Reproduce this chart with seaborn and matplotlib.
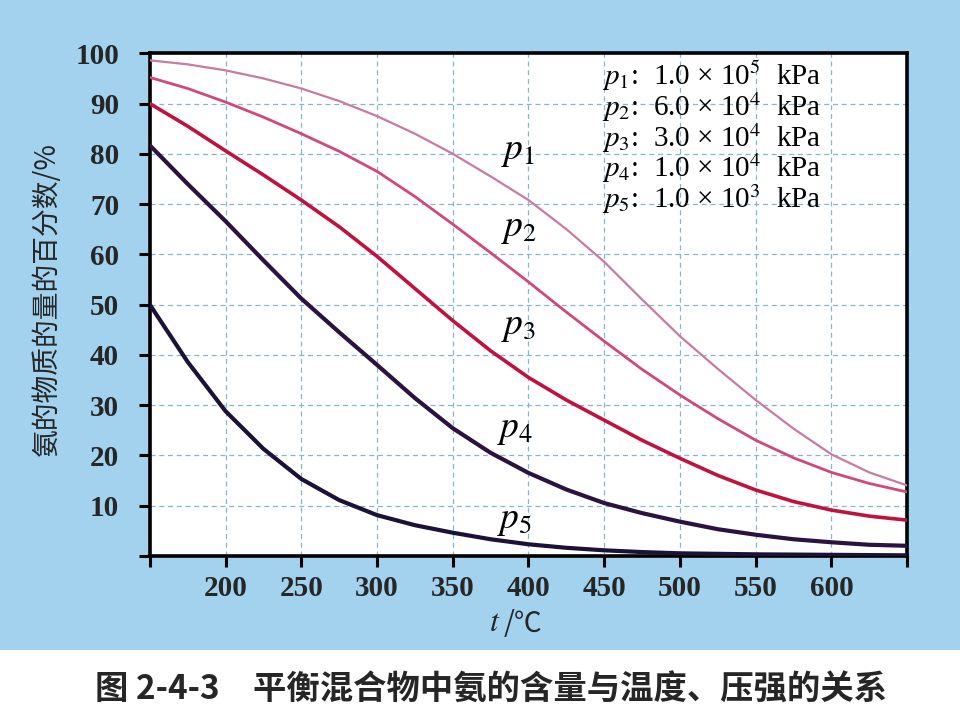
import numpy as np
import pandas as pd
import seaborn as sns
import matplotlib.pyplot as plt

# temperature (°C) and ammonia mole percent
temps = [150, 175, 200, 225, 250, 275, 300, 325, 350, 375, 400, 425,
         450, 475, 500, 525, 550, 575, 600, 625, 650]
p1 = [98.6, 97.8, 96.6, 95.0, 93.0, 90.5, 87.5, 84.0, 80.0, 75.5, 70.8, 65.0,
      58.5, 51.0, 43.7, 37.2, 31.0, 25.3, 20.2, 16.6, 14.0]
p2 = [95.2, 93.0, 90.3, 87.3, 84.0, 80.5, 76.5, 71.5, 66.0, 60.3, 54.5, 48.5,
      42.7, 37.1, 32.0, 27.3, 23.0, 19.5, 16.6, 14.4, 12.7]
p3 = [90.0, 85.5, 80.6, 75.8, 70.8, 65.5, 59.6, 53.2, 46.8, 40.8, 35.5, 31.0,
      27.0, 23.0, 19.4, 16.0, 13.1, 10.8, 9.1, 7.9, 7.1]
p4 = [81.7, 74.0, 66.6, 58.8, 51.2, 44.5, 38.0, 31.4, 25.4, 20.5, 16.5, 13.2,
      10.5, 8.5, 6.8, 5.3, 4.2, 3.3, 2.7, 2.2, 2.0]
p5 = [50.0, 38.6, 28.8, 21.3, 15.3, 11.1, 8.1, 6.1, 4.6, 3.3, 2.3, 1.6,
      1.1, 0.75, 0.5, 0.4, 0.3, 0.25, 0.2, 0.15, 0.1]

series_names = ["p1", "p2", "p3", "p4", "p5"]
legend_lines = [r"$p_1$:  1.0 × 10$^5$  kPa",
                r"$p_2$:  6.0 × 10$^4$  kPa",
                r"$p_3$:  3.0 × 10$^4$  kPa",
                r"$p_4$:  1.0 × 10$^4$  kPa",
                r"$p_5$:  1.0 × 10$^3$  kPa"]
curve_labels = [r"$p_1$", r"$p_2$", r"$p_3$", r"$p_4$", r"$p_5$"]
label_pos = [(382, 80.5), (382, 65), (382, 45.5), (379, 25), (379, 7)]

x_ticks = [150, 200, 250, 300, 350, 400, 450, 500, 550, 600, 650]
x_ticklabels = ["", "200", "250", "300", "350", "400", "450", "500", "550", "600", ""]
y_ticks = [0, 10, 20, 30, 40, 50, 60, 70, 80, 90, 100]
y_ticklabels = ["", "10", "20", "30", "40", "50", "60", "70", "80", "90", "100"]

colors = {"p1": "#c97aa2", "p2": "#d2477c", "p3": "#c0123e", "p4": "#2c1240", "p5": "#1c1238"}
widths = {"p1": 1.6, "p2": 2.0, "p3": 2.6, "p4": 3.0, "p5": 3.0}

df = pd.DataFrame({
    "t": temps * 5,
    "pct": p1 + p2 + p3 + p4 + p5,
    "p": np.repeat(series_names, len(temps)),
})

sns.set_theme(style="white")
plt.rcParams["font.family"] = ["Liberation Serif", "Noto Sans CJK SC", "DejaVu Sans"]
plt.rcParams["mathtext.fontset"] = "stix"

fig = plt.figure(figsize=(9.6, 7.2), dpi=100)
fig.patch.set_facecolor("#a3d2ee")
# white caption strip at the bottom
fig.patches.append(plt.Rectangle((0, 0), 1, 0.097, transform=fig.transFigure,
                                 facecolor="white", edgecolor="none", zorder=0))

ax = fig.add_axes([0.156, 0.228, 0.789, 0.698])
ax.set_facecolor("white")

sns.lineplot(data=df, x="t", y="pct", hue="p", size="p", palette=colors,
             sizes=widths, legend=False, ax=ax, zorder=3)

ax.set_xlim(150, 650)
ax.set_ylim(0, 100)
ax.set_xticks(x_ticks)
ax.set_xticklabels(x_ticklabels)
ax.set_yticks(y_ticks)
ax.set_yticklabels(y_ticklabels)
ax.tick_params(direction="out", length=8, width=2.2, labelsize=21, color="black",
               bottom=True, left=True, pad=6)
ax.tick_params(axis="y", pad=14)
for lab in ax.get_xticklabels() + ax.get_yticklabels():
    lab.set_fontweight("bold")
ax.grid(True, color="#86b6d4", linestyle=(0, (4, 3)), linewidth=0.9, zorder=1)
for s in ax.spines.values():
    s.set_linewidth(2.6)
    s.set_color("black")

ax.set_xlabel("")
ax.set_ylabel("")

for lab, (lx, ly) in zip(curve_labels, label_pos):
    ax.text(lx, ly, lab, fontsize=27, color="black", ha="left", va="center", zorder=4)

for i, line in enumerate(legend_lines):
    ax.text(0.597, 0.955 - i * 0.0615, line, transform=ax.transAxes, fontsize=21,
            ha="left", va="center", color="black", zorder=4)

ax.text(0.448, -0.135, "$t$", transform=ax.transAxes, fontsize=23, ha="left", va="center")
ax.text(0.467, -0.135, "/℃", transform=ax.transAxes, fontsize=20, ha="left", va="center",
        family=["Noto Sans CJK SC", "DejaVu Sans"])

fig.text(0.049, 0.585, "氨的物质的量的百分数/%", rotation=90, fontsize=20,
         ha="center", va="center", family=["Noto Sans CJK SC", "DejaVu Sans"],
         fontweight="medium")

fig.text(0.512, 0.042, "图 2-4-3　平衡混合物中氨的含量与温度、压强的关系", fontsize=24,
         ha="center", va="center", family=["Noto Sans CJK SC", "DejaVu Sans"],
         fontweight="bold")

fig.savefig("out.png", dpi=100, facecolor=fig.get_facecolor())
